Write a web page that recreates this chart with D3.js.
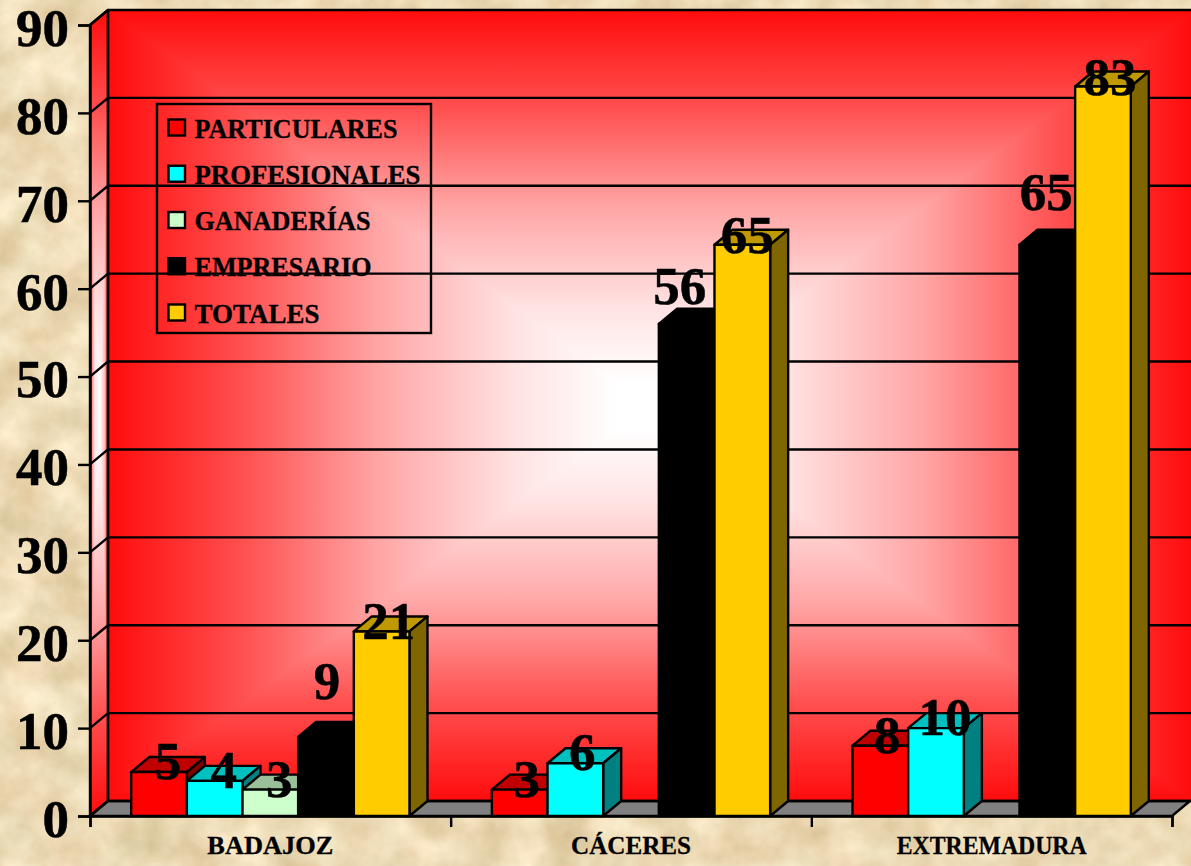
<!DOCTYPE html>
<html><head><meta charset="utf-8">
<script src="https://cdn.jsdelivr.net/npm/d3@7"></script>
<style>html,body{margin:0;padding:0;background:#e9dbb9;overflow:hidden}svg{display:block}
text{font-family:"Liberation Serif","Times New Roman",serif;font-weight:bold;fill:#000}</style>
</head><body><div id="chart"></div>
<script>
const categories = ["BADAJOZ","CÁCERES","EXTREMADURA"];
const seriesNames = ["PARTICULARES","PROFESIONALES","GANADERÍAS","EMPRESARIO","TOTALES"];
const particulares = [5,3,8];
const profesionales = [4,6,10];
const ganaderias = [3,null,null];
const empresario = [9,56,65];
const totales = [21,65,83];
const yTicks = [0,10,20,30,40,50,60,70,80,90];

const seriesValues = [particulares,profesionales,ganaderias,empresario,totales];
const colors = {
  PARTICULARES:{f:"#ff0000",t:"#c00000",s:"#800000"},
  PROFESIONALES:{f:"#00ffff",t:"#00c0c0",s:"#008080"},
  "GANADERÍAS":{f:"#ccffcc",t:"#99c099",s:"#668066"},
  EMPRESARIO:{f:"#000000",t:"#000000",s:"#000000"},
  TOTALES:{f:"#ffcc00",t:"#c09900",s:"#806600"}
};
// hand-placed label nudges of the original chart: [dx, baseline relative to bar top]
const labelNudge = {
  PARTICULARES:[[9,7],[7,7],[7,7]],
  PROFESIONALES:[[9,7],[7,7],[9,7]],
  "GANADERÍAS":[[9,7],[0,0],[0,0]],
  EMPRESARIO:[[1,-38],[-7,-20],[-1,-35]],
  TOTALES:[[7,8],[5,8],[7,8]]
};

const W=1191,H=866,dx=18,dy=15,lw=2.4;
const svg=d3.select("#chart").append("svg").attr("width",W).attr("height",H);
const defs=svg.append("defs");

// parchment texture
const f=defs.append("filter").attr("id","paper").attr("x",0).attr("y",0).attr("width","100%").attr("height","100%").attr("color-interpolation-filters","sRGB");
f.append("feTurbulence").attr("type","fractalNoise").attr("baseFrequency","0.022").attr("numOctaves",5).attr("seed",11).attr("result","n");
f.append("feColorMatrix").attr("in","n").attr("type","matrix").attr("values",
 "0.20 0.05 0 0 0.80  0.25 0 0 0 0.73  0.32 0 0 0 0.55  0 0 0 0 1");
svg.append("rect").attr("width",W).attr("height",H).attr("filter","url(#paper)");

const y=d3.scaleLinear().domain([0,90]).range([816,25]);
const x0=d3.scaleBand().domain(categories).range([90,1172]).paddingInner(0).paddingOuter(0);
const x1=d3.scaleBand().domain(seriesNames).range([0,x0.bandwidth()]).paddingInner(0).paddingOuter(0.74);
const edge=d3.scaleLinear().domain([0,3]).range([90,1172]);

// back wall : rectangular gradient (two ramps combined with "darken")
function ramp(id,x2,y2,stops){
  const g=defs.append("linearGradient").attr("id",id).attr("x1",0).attr("y1",0).attr("x2",x2).attr("y2",y2);
  stops.forEach(s=>g.append("stop").attr("offset",s[0]).attr("stop-color",s[1]));
}
const curve=[[0,"#ff0c0c"],[0.125,"#ff5050"],[0.25,"#ffa6a6"],[0.375,"#ffe2e2"],[0.47,"#ffffff"],[0.53,"#ffffff"],[0.625,"#ffe2e2"],[0.75,"#ffa6a6"],[0.875,"#ff5050"],[1,"#ff0c0c"]];
ramp("gH",1,0,curve);
ramp("gV",0,1,curve);
const wallTop=y(90)-dy, wallBot=y(0)-dy, wallL=90+dx, wallR=W+2;
const wall=svg.append("g").style("isolation","isolate");
wall.append("rect").attr("x",wallL).attr("y",wallTop).attr("width",wallR-wallL).attr("height",wallBot-wallTop).attr("fill","url(#gH)");
wall.append("rect").attr("x",wallL).attr("y",wallTop).attr("width",wallR-wallL).attr("height",wallBot-wallTop).attr("fill","url(#gV)").style("mix-blend-mode","darken");
// side wall
const sidePts=[[90,y(90)],[wallL,wallTop],[wallL,wallBot],[90,y(0)]].join(" ");
const side=svg.append("g").style("isolation","isolate");
ramp("gS",1,0,[[0,"#ff4040"],[0.25,"#ffe0e0"],[0.55,"#ffffff"],[0.8,"#ffc0c0"],[1,"#ff2020"]]);
side.append("polygon").attr("points",sidePts).attr("fill","url(#gV)");
side.append("polygon").attr("points",sidePts).attr("fill","url(#gS)").style("mix-blend-mode","darken");
svg.append("polygon").attr("points",sidePts).attr("fill","none").attr("stroke","#000").attr("stroke-width",lw).attr("stroke-linejoin","round");
// floor
svg.append("polygon").attr("points",[[90,y(0)],[1172,y(0)],[1172+dx,wallBot],[wallL,wallBot]].join(" ")).attr("fill","#808080").attr("stroke","#000").attr("stroke-width",lw);
// gridlines
const grid=svg.append("g").attr("fill","none").attr("stroke","#000").attr("stroke-width",lw);
grid.selectAll("path").data(yTicks).join("path").attr("d",v=>{
  const p=d3.path();p.moveTo(90,y(v));p.lineTo(wallL,y(v)-dy);p.lineTo(wallR,y(v)-dy);return p.toString();
});
svg.append("line").attr("x1",wallL).attr("x2",wallL).attr("y1",wallTop).attr("y2",wallBot).attr("stroke","#000").attr("stroke-width",lw);

// legend
const lg=svg.append("g");
lg.append("rect").attr("x",157).attr("y",104).attr("width",274).attr("height",229).attr("fill","none").attr("stroke","#000").attr("stroke-width",lw);
const legendRow=d3.scalePoint().domain(seriesNames).range([128,313]);
const legendWidths=[203,226,176,177,125];
seriesNames.forEach((n,i)=>{
  lg.append("rect").attr("x",168.5).attr("y",legendRow(n)-8.5).attr("width",16.5).attr("height",16).attr("fill",colors[n].f).attr("stroke","#000").attr("stroke-width",lw);
  lg.append("text").attr("x",194.5).attr("y",legendRow(n)+9.5).attr("font-size",27).attr("stroke","#000").attr("stroke-width",0.3).attr("textLength",legendWidths[i]).attr("lengthAdjust","spacingAndGlyphs").text(n);
});

// bars
const bars=svg.append("g").attr("stroke","#000").attr("stroke-width",lw).attr("stroke-linejoin","round");
categories.forEach((c,ci)=>{
  seriesNames.forEach((n,si)=>{
    const v=seriesValues[si][ci];
    if(v==null) return;
    const L=x0(c)+x1(n),R=L+x1.bandwidth(),T=y(v),B=y(0),col=colors[n];
    const g=bars.append("g");
    g.append("polygon").attr("points",[[L,T],[L+dx,T-dy],[R+dx,T-dy],[R,T]].join(" ")).attr("fill",col.t);
    g.append("polygon").attr("points",[[R,T],[R+dx,T-dy],[R+dx,B-dy],[R,B]].join(" ")).attr("fill",col.s);
    g.append("rect").attr("x",L).attr("y",T).attr("width",R-L).attr("height",B-T).attr("fill",col.f);
  });
});

// data labels
categories.forEach((c,ci)=>{
  seriesNames.forEach((n,si)=>{
    const v=seriesValues[si][ci];
    if(v==null) return;
    const nudge=labelNudge[n][ci];
    svg.append("text").attr("x",x0(c)+x1(n)+x1.bandwidth()/2+nudge[0]).attr("y",y(v)+nudge[1])
      .attr("text-anchor","middle").attr("font-size",53).attr("stroke","#000").attr("stroke-width",0.5).text(v);
  });
});

// axes
const axY=svg.append("g").attr("transform","translate(90,0)").call(d3.axisLeft(y).tickValues(yTicks).tickSize(12).tickPadding(9));
axY.select(".domain").attr("stroke","#000").attr("stroke-width",lw);
axY.selectAll(".tick line").attr("stroke","#000").attr("stroke-width",lw);
axY.selectAll("text").attr("font-size",53).attr("font-family",null).attr("dy","0.385em").attr("stroke","#000").attr("stroke-width",0.5);
const axE=svg.append("g").attr("transform","translate(0,816)").call(d3.axisBottom(edge).tickValues([0,1,2,3]).tickSize(11).tickFormat(""));
axE.select(".domain").attr("stroke","#000").attr("stroke-width",lw);
axE.selectAll(".tick line").attr("stroke","#000").attr("stroke-width",lw);
const axC=svg.append("g").attr("transform","translate(0,816)").call(d3.axisBottom(x0).tickSize(0).tickPadding(20));
axC.select(".domain").remove();
const catW=[126,120,190];
axC.selectAll("text").attr("font-size",25.5).attr("font-family",null).attr("dy","0.71em").attr("stroke","#000").attr("stroke-width",0.3)
  .attr("textLength",(d,i)=>catW[i]).attr("lengthAdjust","spacingAndGlyphs");
</script></body></html>
